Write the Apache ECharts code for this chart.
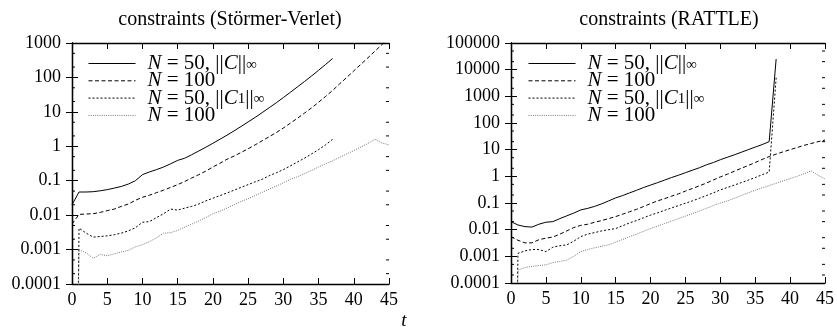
<!DOCTYPE html>
<html><head><meta charset="utf-8">
<script src="https://cdn.jsdelivr.net/npm/echarts@6/dist/echarts.min.js"></script>
<style>html,body{margin:0;padding:0;background:#fff}#c{width:837px;height:327px}</style>
</head><body><div id="c"></div>
<script>
// ---------- data ----------
const titleLeft = 'constraints (Störmer-Verlet)';
const titleRight = 'constraints (RATTLE)';
const xTicks = [0, 5, 10, 15, 20, 25, 30, 35, 40, 45];
const yLabelsLeft = ['0.0001', '0.001', '0.01', '0.1', '1', '10', '100', '1000'];
const yLabelsRight = ['0.0001', '0.001', '0.01', '0.1', '1', '10', '100', '1000', '10000', '100000'];
const legendNames = ['N = 50, ||C||∞', 'N = 100', 'N = 50, ||C1||∞', 'N = 100'];

// Störmer-Verlet
const svT37 = [0,1,2,3,4,5,6,7,8,9,10,11,12,13,14,15,16,17,18,19,20,21,22,23,24,25,26,27,28,29,30,31,32,33,34,35,36,37];
const svT45 = [0,1,2,3,4,5,6,7,8,9,10,11,12,13,14,15,16,17,18,19,20,21,22,23,24,25,26,27,28,29,30,31,32,33,34,35,36,37,38,39,40,41,42,43,44,45];
const svC50 = [0.02,0.047,0.047,0.048,0.051,0.055,0.061,0.068,0.08,0.1,0.15,0.18,0.21,0.25,0.31,0.39,0.45,0.57,0.73,0.94,1.22,1.6,2.1,2.8,3.76,5.1,6.9,9.5,13.2,18.4,26,37,53,76,110,161,238,355];
const svC100 = [0.0055,0.0105,0.0108,0.011,0.012,0.0135,0.015,0.018,0.021,0.027,0.033,0.038,0.045,0.053,0.064,0.077,0.095,0.12,0.15,0.19,0.25,0.32,0.42,0.52,0.66,0.85,1.1,1.45,1.9,2.5,3.4,4.7,6.5,9.2,13,19,28,42,65,100,155,240,370,580,900,1400];
const svC1_50 = [1e-20,0.0042,0.003,0.0023,0.0024,0.0025,0.0027,0.003,0.0035,0.0043,0.0062,0.0065,0.0085,0.011,0.015,0.014,0.016,0.018,0.021,0.026,0.031,0.037,0.044,0.053,0.064,0.077,0.093,0.11,0.14,0.17,0.21,0.27,0.35,0.45,0.6,0.8,1.1,1.6];
const svC1_100 = [1e-20,0.001,0.0008,0.00056,0.00072,0.00066,0.00075,0.00085,0.00095,0.0012,0.0014,0.0017,0.0022,0.003,0.0031,0.0036,0.0045,0.0055,0.0068,0.0085,0.011,0.013,0.016,0.02,0.025,0.03,0.037,0.046,0.057,0.07,0.087,0.11,0.13,0.16,0.2,0.25,0.31,0.38,0.48,0.6,0.75,0.95,1.2,1.6,1.25,1.1];

// RATTLE
const rT38 = [0,1,2,3,4,5,6,7,8,9,10,11,12,13,14,15,16,17,18,19,20,21,22,23,24,25,26,27,28,29,30,31,32,33,34,35,36,37,38];
const rT45 = svT45;
const rC50 = [0.02,0.015,0.013,0.0125,0.016,0.019,0.02,0.026,0.033,0.042,0.055,0.063,0.075,0.093,0.12,0.155,0.19,0.24,0.3,0.38,0.47,0.58,0.72,0.9,1.1,1.37,1.7,2.1,2.7,3.3,4.2,5.2,6.4,8,10,12.5,15.5,20,25000];
const rC100 = [0.0055,0.004,0.0032,0.0032,0.0042,0.0048,0.0053,0.0068,0.009,0.012,0.0145,0.016,0.019,0.022,0.026,0.031,0.038,0.047,0.058,0.074,0.095,0.12,0.145,0.18,0.22,0.28,0.35,0.44,0.56,0.73,0.95,1.2,1.55,2.0,2.55,3.3,4.3,5.5,6.8,8.3,10,12,14.5,17,20,23];
const rC1_50 = [1e-20,0.0013,0.0016,0.0018,0.0018,0.0015,0.0022,0.0025,0.0027,0.0037,0.0055,0.0068,0.0078,0.009,0.01,0.011,0.014,0.018,0.022,0.028,0.035,0.043,0.053,0.065,0.08,0.098,0.12,0.15,0.19,0.24,0.31,0.38,0.47,0.58,0.72,0.9,1.15,1.45,5000];
const rC1_100 = [1e-20,0.0003,0.00038,0.00042,0.00045,0.00048,0.00058,0.00064,0.00072,0.001,0.0015,0.0018,0.0021,0.0024,0.0027,0.0034,0.0043,0.0055,0.0068,0.0087,0.011,0.0135,0.017,0.021,0.026,0.032,0.04,0.05,0.063,0.08,0.1,0.12,0.15,0.19,0.24,0.3,0.37,0.45,0.55,0.68,0.82,1.0,1.25,1.6,1.1,0.8];

// ---------- chart ----------
const FONT = "'Liberation Serif', 'DejaVu Serif', serif";
const zip = (t, v) => t.map((x, i) => [x, v[i]]);
const minorMult = [2, 5];
function minorVals(lo, hi) { const out = []; for (let k = lo; k < hi; k++) minorMult.forEach(m => out.push([0, m * Math.pow(10, k)])); return out; }

const styles = [
  { color: '#000', width: 1, type: 'solid' },
  { color: '#000', width: 1, type: [4, 2.5] },
  { color: '#000', width: 1, type: [2, 2] },
  { color: '#777', width: 1, type: [1, 1.2] }
];
const ids = [['a0','a1','a2','a3'], ['b0','b1','b2','b3']];
const nameMap = {};
ids.forEach(g => g.forEach((id, i) => nameMap[id] = i));
const richLabels = [
  '{g|}{i|N} = 50, ||{i|C}||{s|∞}',
  '{g|}{i|N} = 100',
  '{g|}{i|N} = 50, ||{i|C}{s|1}||{s|∞}',
  '{g|}{i|N} = 100'
];

function lineSeries(id, data, gi, si) {
  return { name: id, type: 'line', xAxisIndex: gi * 2, yAxisIndex: gi * 2, data: data,
    showSymbol: false, symbol: 'none', lineStyle: styles[si], itemStyle: { color: styles[si].color },
    clip: true, animation: false, silent: true };
}
function minorSeries(gi, lo, hi) {
  return { type: 'custom', xAxisIndex: gi * 2, yAxisIndex: gi * 2, data: minorVals(lo, hi), silent: true, animation: false,
    renderItem: (params, api) => {
      const v = api.value(1);
      const p0 = api.coord([0, v]), p1 = api.coord([45, v]);
      return { type: 'group', children: [
        { type: 'line', shape: { x1: p0[0], y1: p0[1], x2: p0[0] + 3, y2: p0[1] }, style: { stroke: '#000', lineWidth: 1 } },
        { type: 'line', shape: { x1: p1[0] - 3, y1: p1[1], x2: p1[0], y2: p1[1] }, style: { stroke: '#000', lineWidth: 1 } }
      ]};
    } };
}
function xAxes(gi) {
  const base = { gridIndex: gi, type: 'value', min: 0, max: 45, interval: 5,
    axisLine: { show: true, lineStyle: { color: '#000', width: 1.3 } },
    axisTick: { show: true, inside: true, length: 6, lineStyle: { color: '#000', width: 1 } },
    splitLine: { show: false } };
  return [
    Object.assign({}, base, { position: 'bottom', axisLabel: { margin: 7, fontFamily: FONT, fontSize: 18, color: '#000',
      formatter: v => String(xTicks[Math.round(v / 5)]) } }),
    Object.assign({}, base, { position: 'top', axisLabel: { show: false } })
  ];
}
function yAxes(gi, lo, hi, labels) {
  const base = { gridIndex: gi, type: 'log', logBase: 10, min: Math.pow(10, lo), max: Math.pow(10, hi), splitNumber: 10,
    axisLine: { show: true, lineStyle: { color: '#000', width: 1.3 } },
    axisTick: { show: true, inside: true, length: 6, lineStyle: { color: '#000', width: 1 } },
    splitLine: { show: false } };
  return [
    Object.assign({}, base, { position: 'left', axisLabel: { margin: 11, fontFamily: FONT, fontSize: 18, color: '#000',
      formatter: v => labels[Math.round(Math.log10(v)) - lo] } }),
    Object.assign({}, base, { position: 'right', axisLabel: { show: false } })
  ];
}
function legend(gi, left) {
  return { show: true, orient: 'vertical', left: left, top: 53, padding: 0, itemGap: -3.7,
    itemWidth: 47, itemHeight: 17, selectedMode: false, data: ids[gi],
    itemStyle: { opacity: 0, borderWidth: 0 },
    lineStyle: { width: 1 },
    formatter: n => richLabels[nameMap[n]],
    textStyle: { fontFamily: FONT, fontSize: 21, color: '#000', lineHeight: 17.3,
      rich: {
        g: { width: 7 },
        i: { fontFamily: FONT, fontSize: 21, fontStyle: 'italic', color: '#000', lineHeight: 17.3 },
        s: { fontFamily: FONT, fontSize: 15, color: '#000', verticalAlign: 'bottom', lineHeight: 17.3 }
      } } };
}

const chart = echarts.init(document.getElementById('c'), null, { renderer: 'canvas' });
chart.setOption({
  animation: false,
  backgroundColor: '#fff',
  grid: [
    { left: 72, top: 43, width: 317, height: 241 },
    { left: 511, top: 43, width: 317, height: 240 }
  ],
  xAxis: [...xAxes(0), ...xAxes(1)],
  yAxis: [...yAxes(0, -4, 3, yLabelsLeft), ...yAxes(1, -4, 5, yLabelsRight)],
  legend: [legend(0, 88), legend(1, 528)],
  graphic: [
    { type: 'text', x: 230, y: 20, style: { text: titleLeft, font: "20px 'Liberation Serif'", fill: '#000', align: 'center', verticalAlign: 'middle' } },
    { type: 'text', x: 669, y: 20, style: { text: titleRight, font: "20px 'Liberation Serif'", fill: '#000', align: 'center', verticalAlign: 'middle' } },
    { type: 'text', x: 404, y: 321, style: { text: 't', font: "italic 19px 'Liberation Serif'", fill: '#000', align: 'center', verticalAlign: 'middle' } }
  ],
  series: [
    lineSeries('a0', zip(svT37, svC50), 0, 0),
    lineSeries('a1', zip(svT45, svC100), 0, 1),
    lineSeries('a2', zip(svT37, svC1_50), 0, 2),
    lineSeries('a3', zip(svT45, svC1_100), 0, 3),
    lineSeries('b0', zip(rT38, rC50), 1, 0),
    lineSeries('b1', zip(rT45, rC100), 1, 1),
    lineSeries('b2', zip(rT38, rC1_50), 1, 2),
    lineSeries('b3', zip(rT45, rC1_100), 1, 3),
    minorSeries(0, -4, 3),
    minorSeries(1, -4, 5)
  ]
});
</script></body></html>
